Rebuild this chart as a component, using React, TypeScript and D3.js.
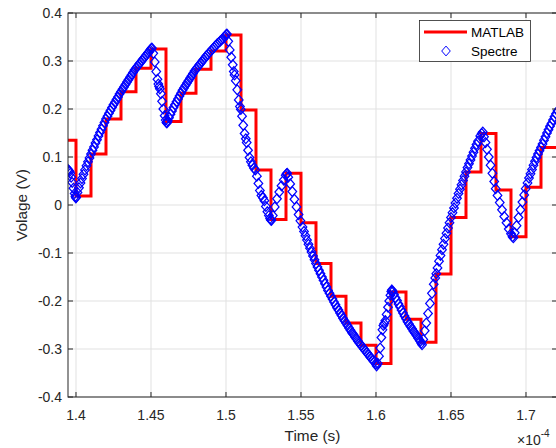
import React from "react";
import * as d3 from "d3";

const W = 556;
const H = 448;

const xTicks = [1.4, 1.45, 1.5, 1.55, 1.6, 1.65, 1.7];
const xTickLabels = ["1.4", "1.45", "1.5", "1.55", "1.6", "1.65", "1.7"];
const yTicks = [-0.4, -0.3, -0.2, -0.1, 0, 0.1, 0.2, 0.3, 0.4];
const yTickLabels = ["-0.4", "-0.3", "-0.2", "-0.1", "0", "0.1", "0.2", "0.3", "0.4"];

// MATLAB sample-and-hold (time in 1e-4 s)
const stairTimes = [
  1.39, 1.4, 1.41, 1.42, 1.43, 1.44, 1.45, 1.46, 1.47, 1.48, 1.49, 1.5, 1.51, 1.52, 1.53, 1.54, 1.55,
  1.56, 1.57, 1.58, 1.59, 1.6, 1.61, 1.62, 1.63, 1.64, 1.65, 1.66, 1.67, 1.68, 1.69, 1.7, 1.71, 1.72,
];
const stairValues = [
  0.135, 0.019, 0.106, 0.179, 0.236, 0.285, 0.325, 0.174, 0.233, 0.283, 0.321, 0.354, 0.198, 0.073,
  -0.03, 0.066, -0.037, -0.122, -0.19, -0.246, -0.292, -0.33, -0.181, -0.238, -0.286, -0.144, -0.026,
  0.069, 0.149, 0.031, -0.066, 0.037, 0.12, 0.12,
];

// Spectre transient points [time (1e-4 s), voltage]
const spectreSamples: [number, number][] = [
  [1.3947, 0.074], [1.3952, 0.072], [1.3957, 0.07], [1.3962, 0.066], [1.3968, 0.058], [1.3975, 0.047],
  [1.3983, 0.035], [1.3991, 0.024], [1.3996, 0.018], [1.3999, 0.015], [1.4001, 0.016],
  [1.401, 0.026], [1.402, 0.036], [1.403, 0.046], [1.404, 0.055], [1.405, 0.064], [1.406, 0.073],
  [1.407, 0.082], [1.408, 0.09], [1.409, 0.098], [1.41, 0.106], [1.411, 0.114], [1.412, 0.121],
  [1.413, 0.129], [1.414, 0.136], [1.415, 0.144], [1.416, 0.151], [1.417, 0.158], [1.418, 0.165],
  [1.419, 0.172], [1.42, 0.179], [1.421, 0.185], [1.422, 0.191], [1.423, 0.197], [1.424, 0.203],
  [1.425, 0.209], [1.426, 0.214], [1.427, 0.22], [1.428, 0.225], [1.429, 0.231], [1.43, 0.236],
  [1.431, 0.241], [1.432, 0.246], [1.433, 0.251], [1.434, 0.256], [1.435, 0.261], [1.436, 0.266],
  [1.437, 0.271], [1.438, 0.276], [1.439, 0.281], [1.44, 0.285], [1.441, 0.289], [1.442, 0.293],
  [1.443, 0.297], [1.444, 0.301], [1.445, 0.305], [1.446, 0.309], [1.447, 0.313], [1.448, 0.317],
  [1.449, 0.32], [1.4495, 0.323], [1.4502, 0.326], [1.4506, 0.327],
  [1.4515, 0.316], [1.4525, 0.298], [1.4535, 0.278], [1.4543, 0.262], [1.4549, 0.252], [1.4554, 0.247],
  [1.4559, 0.242], [1.4566, 0.232], [1.4574, 0.216], [1.4582, 0.2], [1.4591, 0.186], [1.4598, 0.177],
  [1.4603, 0.172], [1.4606, 0.171],
  [1.4612, 0.175], [1.462, 0.182], [1.463, 0.189], [1.464, 0.196], [1.465, 0.203], [1.466, 0.209],
  [1.467, 0.215], [1.468, 0.221], [1.469, 0.227], [1.47, 0.233], [1.471, 0.239], [1.472, 0.244],
  [1.473, 0.249], [1.474, 0.254], [1.475, 0.259], [1.476, 0.264], [1.477, 0.269], [1.478, 0.274],
  [1.479, 0.279], [1.48, 0.283], [1.481, 0.287], [1.482, 0.291], [1.483, 0.295], [1.484, 0.299],
  [1.485, 0.303], [1.486, 0.307], [1.487, 0.311], [1.488, 0.314], [1.489, 0.318], [1.49, 0.321],
  [1.491, 0.325], [1.492, 0.328], [1.493, 0.332], [1.494, 0.335], [1.495, 0.338], [1.496, 0.341],
  [1.497, 0.344], [1.498, 0.347], [1.499, 0.35], [1.4995, 0.352], [1.5002, 0.355], [1.5006, 0.356],
  [1.5015, 0.341], [1.5025, 0.323], [1.5035, 0.308], [1.5045, 0.292], [1.5052, 0.278], [1.5057, 0.271],
  [1.5065, 0.259], [1.5075, 0.24], [1.5085, 0.219], [1.5093, 0.205], [1.5099, 0.199], [1.5107, 0.185],
  [1.5115, 0.166], [1.5124, 0.149], [1.5132, 0.138], [1.5138, 0.13], [1.5147, 0.114], [1.5157, 0.099],
  [1.5166, 0.09], [1.5176, 0.083], [1.5186, 0.077], [1.5196, 0.073], [1.5206, 0.06], [1.5216, 0.045],
  [1.5226, 0.03], [1.5236, 0.02], [1.5246, 0.015], [1.5256, 0.009], [1.5266, -0.003], [1.5276, -0.014],
  [1.5286, -0.022], [1.5294, -0.028], [1.5299, -0.031], [1.5303, -0.032],
  [1.5312, -0.022], [1.5325, -0.004], [1.534, 0.013], [1.5355, 0.027], [1.537, 0.04], [1.5385, 0.052],
  [1.5398, 0.062], [1.5404, 0.065], [1.5408, 0.066],
  [1.5415, 0.058], [1.5428, 0.044], [1.5442, 0.028], [1.5456, 0.012], [1.547, -0.004], [1.5484, -0.02],
  [1.5496, -0.033], [1.551, -0.046], [1.552, -0.055], [1.553, -0.064], [1.554, -0.073], [1.555, -0.082],
  [1.556, -0.09], [1.557, -0.098], [1.558, -0.106], [1.559, -0.114], [1.56, -0.122], [1.561, -0.129],
  [1.562, -0.136], [1.563, -0.143], [1.564, -0.15], [1.565, -0.157], [1.566, -0.164], [1.567, -0.171],
  [1.568, -0.178], [1.569, -0.184], [1.57, -0.19], [1.571, -0.196], [1.572, -0.202], [1.573, -0.208],
  [1.574, -0.214], [1.575, -0.219], [1.576, -0.225], [1.577, -0.23], [1.578, -0.236], [1.579, -0.241],
  [1.58, -0.246], [1.581, -0.251], [1.582, -0.256], [1.583, -0.261], [1.584, -0.266], [1.585, -0.27],
  [1.586, -0.275], [1.587, -0.279], [1.588, -0.284], [1.589, -0.288], [1.59, -0.292], [1.591, -0.296],
  [1.592, -0.3], [1.593, -0.304], [1.594, -0.308], [1.595, -0.312], [1.596, -0.316], [1.597, -0.32],
  [1.598, -0.324], [1.599, -0.327], [1.6, -0.331], [1.6004, -0.335],
  [1.6012, -0.33], [1.602, -0.315], [1.6028, -0.298], [1.6036, -0.276], [1.6043, -0.26], [1.6049, -0.251],
  [1.6055, -0.247], [1.6062, -0.241], [1.6071, -0.228], [1.608, -0.213], [1.6088, -0.2], [1.6096, -0.188],
  [1.6102, -0.18], [1.6106, -0.177],
  [1.6112, -0.18], [1.612, -0.186], [1.613, -0.193], [1.614, -0.199], [1.615, -0.206], [1.616, -0.212],
  [1.617, -0.219], [1.618, -0.225], [1.619, -0.231], [1.62, -0.237], [1.621, -0.243], [1.622, -0.248],
  [1.623, -0.253], [1.624, -0.258], [1.625, -0.263], [1.626, -0.267], [1.627, -0.272], [1.628, -0.277],
  [1.629, -0.281], [1.6295, -0.284], [1.6302, -0.288], [1.6307, -0.291],
  [1.6315, -0.28], [1.6325, -0.262], [1.6335, -0.246], [1.6347, -0.226], [1.636, -0.205], [1.6373, -0.184],
  [1.6385, -0.165], [1.6395, -0.152], [1.6402, -0.143], [1.641, -0.131], [1.642, -0.117], [1.643, -0.105],
  [1.644, -0.093], [1.645, -0.082], [1.646, -0.07], [1.647, -0.059], [1.648, -0.048], [1.649, -0.037],
  [1.65, -0.026], [1.651, -0.016], [1.652, -0.006], [1.653, 0.004], [1.654, 0.014], [1.655, 0.024],
  [1.656, 0.033], [1.657, 0.042], [1.658, 0.051], [1.659, 0.06], [1.66, 0.069], [1.661, 0.078],
  [1.662, 0.086], [1.663, 0.094], [1.664, 0.102], [1.665, 0.11], [1.666, 0.118], [1.667, 0.126],
  [1.668, 0.133], [1.6695, 0.144], [1.6705, 0.149], [1.6712, 0.152],
  [1.672, 0.142], [1.673, 0.13], [1.674, 0.116], [1.6752, 0.1], [1.6764, 0.083], [1.6776, 0.066],
  [1.6788, 0.049], [1.6798, 0.034], [1.681, 0.02], [1.6825, 0.005], [1.684, -0.01], [1.6855, -0.024],
  [1.687, -0.037], [1.6885, -0.05], [1.69, -0.06], [1.691, -0.066], [1.6916, -0.068],
  [1.6925, -0.058], [1.6937, -0.043], [1.695, -0.026], [1.6963, -0.01], [1.6976, 0.006], [1.6988, 0.021],
  [1.6998, 0.034], [1.701, 0.046], [1.702, 0.056], [1.703, 0.065], [1.704, 0.074], [1.705, 0.083],
  [1.706, 0.091], [1.707, 0.099], [1.708, 0.106], [1.709, 0.113], [1.71, 0.12], [1.711, 0.127],
  [1.712, 0.135], [1.713, 0.142], [1.714, 0.15], [1.715, 0.157], [1.716, 0.164], [1.717, 0.17],
  [1.718, 0.177], [1.719, 0.184], [1.72, 0.19], [1.721, 0.196],
];

const FONT = "'Liberation Sans', Arial, Helvetica, sans-serif";
const AX = "#262626";
const GRID = "#e1e1e1";

export default function App() {
  const L = 68, T = 13, R = 557, B = 397;
  const x = d3.scaleLinear().domain([1.39467, 1.72067]).range([L, R]);
  const y = d3.scaleLinear().domain([-0.4, 0.4]).range([B, T]);

  const stairData: [number, number][] = stairTimes.map((t, i) => [t, stairValues[i]]);
  const stairPath = d3
    .line<[number, number]>()
    .x((d) => x(d[0]))
    .y((d) => y(d[1]))
    .curve(d3.curveStepAfter)(stairData) as string;

  const diamond = "M0,-4.9L4.3,0L0,4.9L-4.3,0Z";
  const tickLen = 5;

  return (
    <svg width={W} height={H} style={{ position: "absolute", left: 0, top: 0, background: "#fff" }}>
      <defs>
        <clipPath id="plotClip">
          <rect x={L} y={T} width={R - L} height={B - T} />
        </clipPath>
      </defs>
      <rect x={0} y={0} width={W} height={H} fill="#fff" />
      <rect x={L} y={T} width={R - L} height={B - T} fill="#fff" />
      {xTicks.map((t) => (
        <line key={"gx" + t} x1={x(t)} x2={x(t)} y1={T} y2={B} stroke={GRID} strokeWidth={1} />
      ))}
      {yTicks.map((t) => (
        <line key={"gy" + t} x1={L} x2={R} y1={y(t)} y2={y(t)} stroke={GRID} strokeWidth={1} />
      ))}
      <g clipPath="url(#plotClip)">
        <path d={stairPath} fill="none" stroke="#ff0000" strokeWidth={3} strokeLinejoin="miter" />
        {spectreSamples.map((d, i) => (
          <path
            key={i}
            d={diamond}
            transform={`translate(${x(d[0])},${y(d[1])})`}
            fill="none"
            stroke="#0000ff"
            strokeWidth={1.25}
          />
        ))}
      </g>
      <rect x={L} y={T} width={R - L} height={B - T} fill="none" stroke={AX} strokeWidth={1} />
      {xTicks.map((t) => (
        <g key={"tx" + t}>
          <line x1={x(t)} x2={x(t)} y1={B} y2={B - tickLen} stroke={AX} strokeWidth={1} />
          <line x1={x(t)} x2={x(t)} y1={T} y2={T + tickLen} stroke={AX} strokeWidth={1} />
        </g>
      ))}
      {yTicks.map((t) => (
        <g key={"ty" + t}>
          <line x1={L} x2={L + tickLen} y1={y(t)} y2={y(t)} stroke={AX} strokeWidth={1} />
          <line x1={R} x2={R - tickLen} y1={y(t)} y2={y(t)} stroke={AX} strokeWidth={1} />
        </g>
      ))}
      {xTicks.map((t, i) => (
        <text key={"lx" + t} x={x(t)} y={420} textAnchor="middle" fontFamily={FONT} fontSize={14} fill={AX}>
          {xTickLabels[i]}
        </text>
      ))}
      {yTicks.map((t, i) => (
        <text key={"ly" + t} x={62} y={y(t) + 5} textAnchor="end" fontFamily={FONT} fontSize={14} fill={AX}>
          {yTickLabels[i]}
        </text>
      ))}
      <text x={(L + R) / 2} y={441} textAnchor="middle" fontFamily={FONT} fontSize={15.4} fill={AX}>
        Time (s)
      </text>
      <text
        transform={`translate(27,${(T + B) / 2}) rotate(-90)`}
        textAnchor="middle"
        fontFamily={FONT}
        fontSize={15.4}
        fill={AX}
      >
        Volage (V)
      </text>
      <text x={517} y={445} fontFamily={FONT} fontSize={14} fill={AX}>
        ×10
        <tspan dy={-8} fontSize={10}>-4</tspan>
      </text>
      <g>
        <rect x={419.5} y={20.5} width={111} height={41} fill="#fff" stroke={AX} strokeWidth={0.8} />
        <line x1={424} x2={467} y1={32} y2={32} stroke="#ff0000" strokeWidth={3} />
        <text x={471} y={37} fontFamily={FONT} fontSize={13.5} fill="#000">
          MATLAB
        </text>
        <path d={diamond} transform="translate(446,51)" fill="none" stroke="#0000ff" strokeWidth={1} />
        <text x={471} y={56} fontFamily={FONT} fontSize={13.5} fill="#000">
          Spectre
        </text>
      </g>
    </svg>
  );
}
